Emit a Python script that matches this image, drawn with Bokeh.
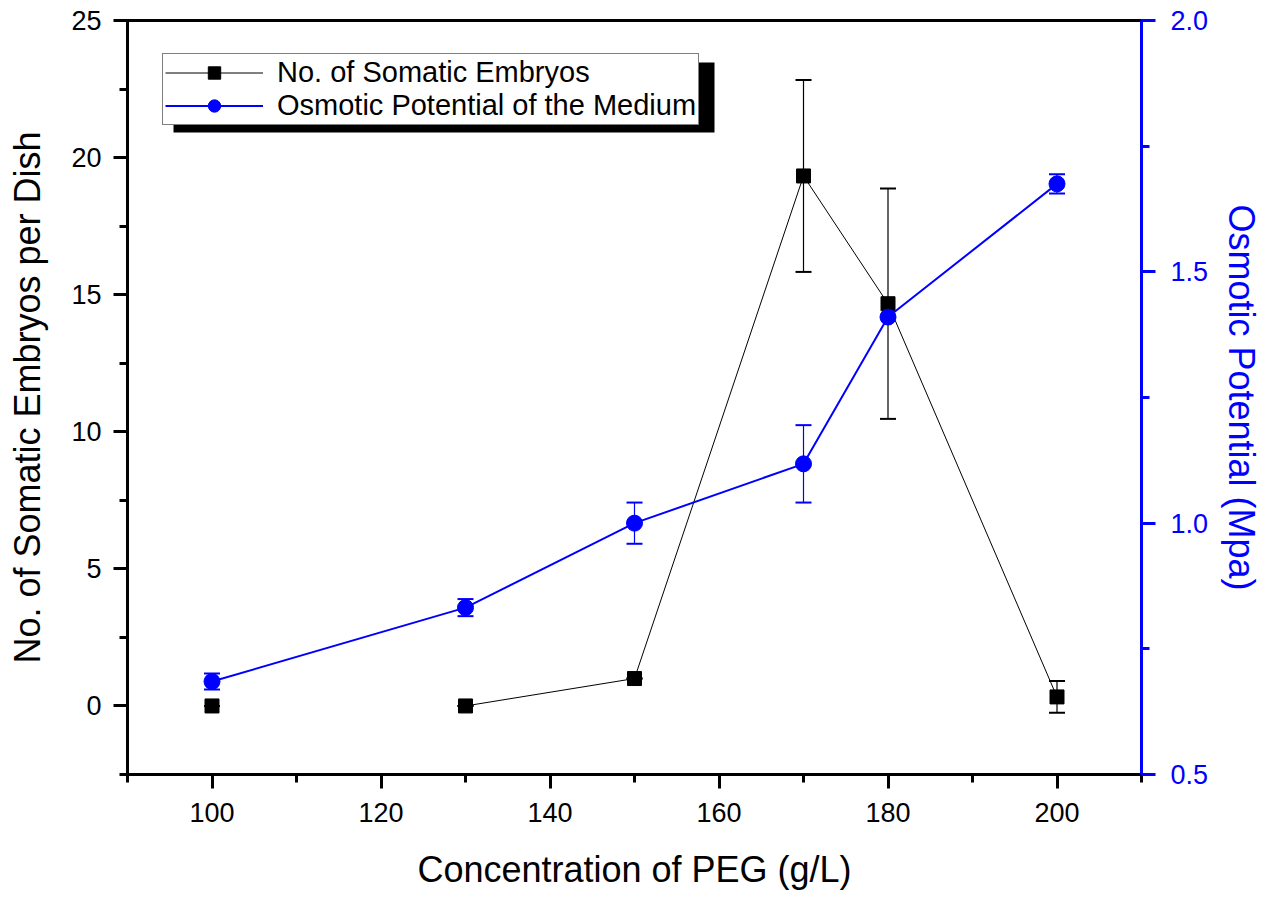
from bokeh.plotting import figure
from bokeh.models import (Range1d, LinearAxis, FixedTicker, Whisker, TeeHead,
                          ColumnDataSource, Legend, LegendItem, BoxAnnotation,
                          PrintfTickFormatter)
from bokeh.embed import file_html
from bokeh.resources import INLINE

# ---- data ----
peg = [100, 130, 150, 170, 180, 200]
embryos = [0.0, 0.0, 1.0, 19.33, 14.67, 0.33]
embryos_err = [0.0, 0.0, 0.0, 3.5, 4.2, 0.58]
osmotic = [0.685, 0.832, 1.0, 1.118, 1.41, 1.675]
osmotic_err = [0.016, 0.017, 0.041, 0.077, 0.0, 0.019]

x_major = [100, 120, 140, 160, 180, 200]
x_minor = [90, 110, 130, 150, 170, 190, 210]
yl_major = [0, 5, 10, 15, 20, 25]
yl_minor = [-2.5, 2.5, 7.5, 12.5, 17.5, 22.5]
yr_major = [0.5, 1.0, 1.5, 2.0]
yr_minor = [0.75, 1.25, 1.75]

x_label = "Concentration of PEG (g/L)"
yl_label = "No. of Somatic Embryos per Dish"
yr_label = "Osmotic Potential (Mpa)"
leg_black = "No. of Somatic Embryos"
leg_blue = "Osmotic Potential of the Medium"

FONT = "Liberation Sans"
BLUE = "#0000FF"

p = figure(width=1266, height=897, output_backend="svg", toolbar_location=None,
           x_range=Range1d(90, 210), y_range=Range1d(-2.5, 25),
           min_border_left=127, min_border_right=125, min_border_top=20,
           min_border_bottom=123, x_axis_location="below")
p.extra_y_ranges = {"right": Range1d(0.5, 2.0)}
p.grid.visible = False
p.outline_line_color = "black"
p.outline_line_width = 3
p.background_fill_color = "white"
p.border_fill_color = "white"

def style_axis(ax, color):
    ax.axis_line_color = color
    ax.axis_line_width = 3
    ax.major_tick_line_color = color
    ax.minor_tick_line_color = color
    ax.major_tick_line_width = 3
    ax.minor_tick_line_width = 3
    ax.major_tick_in = 0
    ax.major_tick_out = 14
    ax.minor_tick_in = 0
    ax.minor_tick_out = 8
    ax.major_label_text_font = FONT
    ax.major_label_text_font_size = "27px"
    ax.major_label_text_color = color
    ax.axis_label_text_font = FONT
    ax.axis_label_text_font_size = "36px"
    ax.axis_label_text_font_style = "normal"
    ax.axis_label_text_color = color

xa = p.xaxis[0]
xa.ticker = FixedTicker(ticks=x_major, minor_ticks=x_minor)
xa.axis_label = x_label
style_axis(xa, "black")
xa.major_label_standoff = 14
xa.axis_label_standoff = 24

ya = p.yaxis[0]
ya.ticker = FixedTicker(ticks=yl_major, minor_ticks=yl_minor)
ya.axis_label = yl_label
style_axis(ya, "black")
ya.major_label_standoff = 12
ya.axis_label_standoff = 20

ra = LinearAxis(y_range_name="right",
                ticker=FixedTicker(ticks=yr_major, minor_ticks=yr_minor),
                formatter=PrintfTickFormatter(format="%.1f"),
                axis_label=yr_label)
style_axis(ra, BLUE)
ra.major_label_standoff = 15
ra.axis_label_standoff = 10
p.add_layout(ra, "right")

# ---- error bars ----
src_b = ColumnDataSource(dict(
    x=peg, y=embryos,
    upper=[v + e for v, e in zip(embryos, embryos_err)],
    lower=[v - e for v, e in zip(embryos, embryos_err)]))
src_o = ColumnDataSource(dict(
    x=peg, y=osmotic,
    upper=[v + e for v, e in zip(osmotic, osmotic_err)],
    lower=[v - e for v, e in zip(osmotic, osmotic_err)]))

wb = Whisker(source=src_b, base="x", upper="upper", lower="lower",
             line_color="black", line_width=1.2,
             upper_head=TeeHead(size=16, line_color="black", line_width=2),
             lower_head=TeeHead(size=16, line_color="black", line_width=2))
wo = Whisker(source=src_o, base="x", upper="upper", lower="lower",
             y_range_name="right", line_color=BLUE, line_width=1.2,
             upper_head=TeeHead(size=16, line_color=BLUE, line_width=2),
             lower_head=TeeHead(size=16, line_color=BLUE, line_width=2))
p.add_layout(wb)
p.add_layout(wo)

# ---- series ----
lb = p.line(peg[1:], embryos[1:], line_color="black", line_width=1)
mb = p.scatter("x", "y", source=src_b, marker="square", size=14,
               fill_color="black", line_color="black")
lo = p.line(peg, osmotic, y_range_name="right", line_color=BLUE, line_width=2)
mo = p.scatter("x", "y", source=src_o, y_range_name="right", marker="circle",
               size=16, fill_color=BLUE, line_color=BLUE)

# ---- legend with drop shadow (screen units, frame-relative, y from bottom) ----
shadow = BoxAnnotation(left=46, right=587, top=712, bottom=642,
                       left_units="screen", right_units="screen",
                       top_units="screen", bottom_units="screen",
                       fill_color="black", fill_alpha=1.0, line_color=None,
                       level="underlay")
p.add_layout(shadow)

legend = Legend(items=[LegendItem(label=leg_black, renderers=[lb, mb]),
                       LegendItem(label=leg_blue, renderers=[lo, mo])],
                location=(35, 649), padding=2, spacing=0,
                glyph_width=98, glyph_height=31, label_standoff=14,
                label_text_font=FONT, label_text_font_size="29px",
                label_text_color="black",
                border_line_color="black", border_line_width=1.5,
                background_fill_color="white", background_fill_alpha=1.0)
p.add_layout(legend)

open("out.html", "w").write(file_html(p, INLINE))
